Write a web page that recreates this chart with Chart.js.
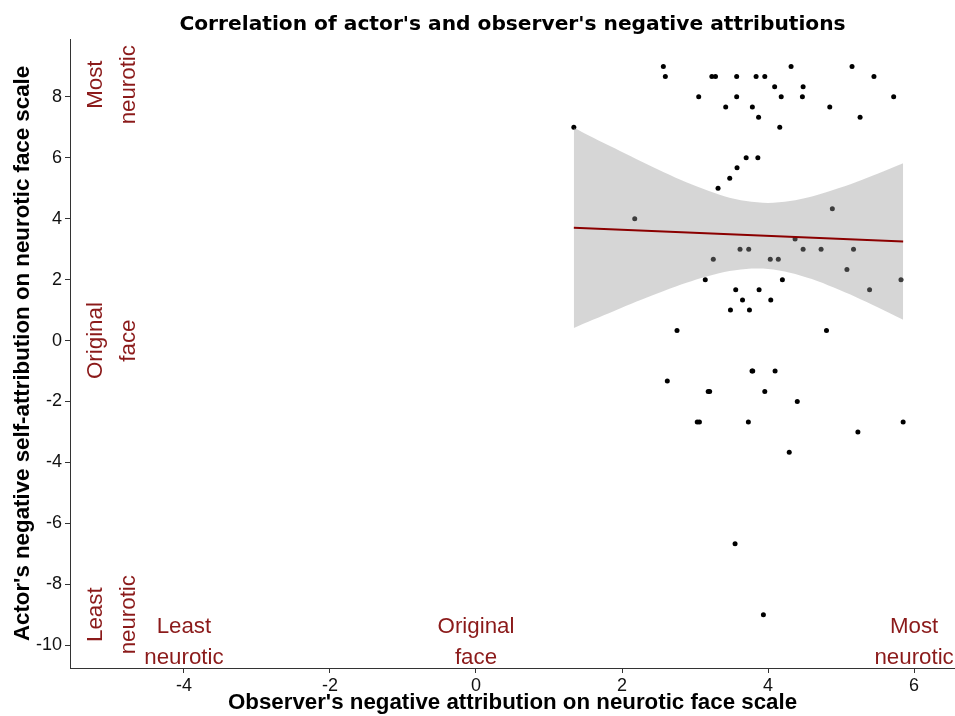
<!DOCTYPE html>
<html><head><meta charset="utf-8">
<script src="https://cdn.jsdelivr.net/npm/chart.js@4.4.0/dist/chart.umd.min.js"></script>
<style>html,body{margin:0;padding:0;background:#fff;overflow:hidden;} canvas{display:block;}</style>
</head><body>
<canvas id="c" width="955" height="716"></canvas>
<script>
const chartTitle = "Correlation of actor's and observer's negative attributions";
const xTitle = "Observer's negative attribution on neurotic face scale";
const yTitle = "Actor's negative self-attribution on neurotic face scale";
const xTicks = [-4, -2, 0, 2, 4, 6];
const yTicks = [-10, -8, -6, -4, -2, 0, 2, 4, 6, 8];

// observer's attribution (x) and actor's self-attribution (y)
const obsX = [2.566, 2.593, 3.23, 3.28, 3.57, 3.05, 3.57, 3.42, 1.34, 3.70, 3.575, 3.475, 3.315,
  4.315, 5.15, 3.836, 3.955, 5.45, 4.09, 4.48, 4.18, 4.47, 5.72, 3.785, 4.845, 3.87, 5.26, 4.16, 3.86,
  2.174, 3.616, 3.735, 3.25, 3.14, 3.557, 3.65, 3.485, 3.745, 2.753,
  4.88, 4.37, 4.48, 4.726, 5.17, 4.03, 4.14, 5.08, 4.196, 5.82, 3.877, 5.39, 4.037, 4.80,
  2.62, 3.18, 3.20, 3.03, 3.06, 3.73, 3.78, 3.79, 4.096, 3.955, 4.40, 5.85, 5.23, 4.29, 3.548, 3.936];
const actY = [9.0, 8.67, 8.67, 8.67, 8.67, 8.0, 8.0, 7.67, 7.0, 6.0, 5.67, 5.33, 5.0,
  9.0, 9.0, 8.67, 8.67, 8.67, 8.33, 8.33, 8.0, 8.0, 8.0, 7.67, 7.67, 7.33, 7.33, 7.0, 6.0,
  4.0, 3.0, 3.0, 2.67, 2.0, 1.67, 1.33, 1.0, 1.0, 0.33,
  4.33, 3.33, 3.0, 3.0, 3.0, 2.67, 2.67, 2.33, 2.0, 2.0, 1.67, 1.67, 1.33, 0.33,
  -1.33, -1.67, -1.67, -2.67, -2.67, -2.67, -1.0, -1.0, -1.0, -1.67, -2.0, -2.67, -3.0, -3.67, -6.67, -9.0];

// fitted line and its confidence band
const fitX = [1.34, 5.85];
const fitY = [3.70, 3.25];
const bandX = [1.34, 1.6, 1.9, 2.2, 2.5, 2.8, 3.1, 3.4, 3.7, 4.0, 4.3, 4.6, 4.9, 5.2, 5.5, 5.85];
const bandUpper = [6.99, 6.67, 6.31, 5.95, 5.61, 5.28, 4.99, 4.74, 4.58, 4.52, 4.58, 4.73, 4.95, 5.20, 5.48, 5.82];
const bandLower = [0.41, 0.68, 0.98, 1.28, 1.56, 1.83, 2.06, 2.25, 2.35, 2.35, 2.23, 2.02, 1.74, 1.43, 1.09, 0.68];

// scale annotations
const xAnnotLabels = [["Least", "neurotic"], ["Original", "face"], ["Most", "neurotic"]];
const xAnnotAt = [-4, 0, 6];
const yAnnotLabels = [["Least", "neurotic"], ["Original", "face"], ["Most", "neurotic"]];
const yAnnotAt = [-9, 0, 8.4];

const pts = obsX.map((x, i) => ({x: x, y: actY[i]}));
const fit = fitX.map((x, i) => ({x: x, y: fitY[i]}));
const up = bandX.map((x, i) => ({x: x, y: bandUpper[i]}));
const lo = bandX.map((x, i) => ({x: x, y: bandLower[i]}));

const SANS = '"Liberation Sans", Arial, sans-serif';

const annotPlugin = {
  id: 'annot',
  afterDatasetsDraw(chart) {
    const {ctx, scales: {x, y}} = chart;
    ctx.save();
    ctx.fillStyle = '#8B1A1A';
    ctx.font = '22.3px ' + SANS;
    ctx.textAlign = 'center';
    ctx.textBaseline = 'alphabetic';
    const capHalf = 8;
    xAnnotLabels.forEach((lines, k) => {
      const px = x.getPixelForValue(xAnnotAt[k]);
      const py = y.getPixelForValue(-9.84);
      lines.forEach((t, i) => ctx.fillText(t, px, py + (i - (lines.length - 1) / 2) * 31 + capHalf));
    });
    yAnnotLabels.forEach((lines, k) => {
      const px = x.getPixelForValue(-5);
      const py = y.getPixelForValue(yAnnotAt[k]);
      ctx.save();
      ctx.translate(px, py);
      ctx.rotate(-Math.PI / 2);
      lines.forEach((t, i) => ctx.fillText(t, 0, (i - (lines.length - 1) / 2) * 33 + capHalf));
      ctx.restore();
    });
    ctx.restore();
  }
};

const titlePlugin = {
  id: 'ttl',
  afterDraw(chart) {
    const {ctx, chartArea: a} = chart;
    ctx.save();
    ctx.font = 'bold 20.2px "DejaVu Sans", sans-serif';
    ctx.fillStyle = '#000';
    ctx.textAlign = 'center';
    ctx.textBaseline = 'alphabetic';
    ctx.fillText(chartTitle, (a.left + a.right) / 2, 30);
    ctx.restore();
  }
};

new Chart(document.getElementById('c'), {
  type: 'scatter',
  data: {
    datasets: [
      {type: 'line', data: fit, borderColor: '#8B0000', borderWidth: 2, pointRadius: 0, fill: false, order: 1},
      {type: 'line', data: lo, borderColor: 'rgba(0,0,0,0)', borderWidth: 0, pointRadius: 0, fill: false, tension: 0.3, order: 2},
      {type: 'line', data: up, borderColor: 'rgba(0,0,0,0)', borderWidth: 0, pointRadius: 0, fill: '-1',
        backgroundColor: 'rgba(153,153,153,0.4)', tension: 0.3, order: 2},
      {type: 'scatter', data: pts, backgroundColor: '#000', borderWidth: 0, pointRadius: 2.5, order: 3}
    ]
  },
  options: {
    responsive: false,
    animation: false,
    events: [],
    layout: {autoPadding: false, padding: {top: 39, left: 0, right: 0, bottom: 0}},
    plugins: {legend: {display: false}, tooltip: {enabled: false}},
    scales: {
      x: {
        type: 'linear', position: 'bottom', min: -5.56, max: 6.56,
        afterBuildTicks: s => { s.ticks = xTicks.map(v => ({value: v})); },
        afterFit: s => { s.height = 48; s.paddingLeft = 0; s.paddingRight = 0; },
        grid: {drawOnChartArea: false, drawTicks: true, tickLength: 5, color: '#333', lineWidth: 1},
        border: {display: true, color: '#333', width: 1},
        ticks: {color: '#111', font: {family: SANS, size: 18}, padding: 2, maxRotation: 0, autoSkip: false},
        title: {display: true, text: xTitle, color: '#000', font: {family: SANS, size: 22.3, weight: 'bold'}, padding: {top: 0, bottom: 0}}
      },
      y: {
        type: 'linear', position: 'left', min: -10.75, max: 9.9,
        afterBuildTicks: s => { s.ticks = yTicks.map(v => ({value: v})); },
        afterFit: s => { s.width = 70; s.paddingTop = 0; s.paddingBottom = 0; },
        grid: {drawOnChartArea: false, drawTicks: true, tickLength: 5, color: '#333', lineWidth: 1},
        border: {display: true, color: '#333', width: 1},
        ticks: {color: '#111', font: {family: SANS, size: 18}, padding: 3, autoSkip: false},
        title: {display: true, text: yTitle, color: '#000', font: {family: SANS, size: 22.3, weight: 'bold'}, padding: {top: 9, bottom: 0}}
      }
    }
  },
  plugins: [annotPlugin, titlePlugin]
});
</script>
</body></html>
